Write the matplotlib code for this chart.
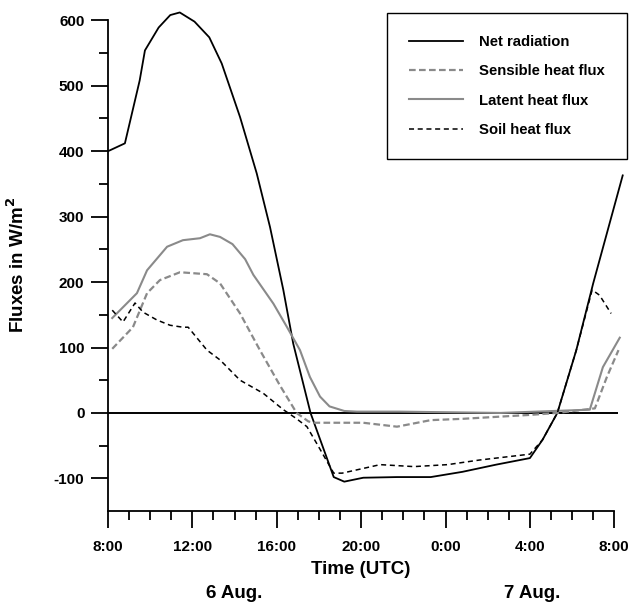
"""
Diurnal course of the surface energy balance components, 6-7 Aug.
"""
import matplotlib
matplotlib.use('Agg')
import matplotlib.pyplot as plt
from matplotlib.ticker import MultipleLocator, FixedLocator

plt.rcParams['font.family'] = ['Liberation Sans', 'DejaVu Sans']
plt.rcParams['font.weight'] = 'bold'
plt.rcParams['axes.unicode_minus'] = False

# hours after 08:00 UTC on 6 Aug.
t_rn = [0, 0.8, 1.5, 1.75, 2.4, 2.95, 3.4, 4.1, 4.8, 5.39, 5.9, 6.26, 7.05,
        7.68, 8.31, 8.78, 9.6, 10.7, 11.2, 12.1, 13.7, 15.3, 16.8, 18.4, 20.0,
        20.6, 21.3, 22.2, 23.0, 24.4]
net_rad = [400, 412, 508, 554, 589, 608, 612, 598, 574, 534, 486, 452, 366,
           284, 188, 106, 0, -98, -105, -99, -98, -98, -90, -79, -69,
           -41, 0, 96, 198, 363]

t_h = [0.2, 1.18, 1.85, 2.46, 3.41, 4.69, 5.31, 6.26, 7.2, 8.15, 8.94, 9.5,
       9.8, 10.5, 12.1, 13.7, 15.3, 16.8, 18.4, 20.0, 21.3, 23.08, 23.65, 24.2]
sensible = [98, 131, 183, 203, 215, 212, 198, 152, 96, 42, 0, -13,
            -15, -15, -15, -21, -11, -9, -6, -3, 0, 7, 55, 96]

t_le = [0.2, 1.37, 1.85, 2.8, 3.55, 4.36, 4.83, 5.31, 5.9, 6.5, 6.89, 7.84,
        8.47, 9.1, 9.57, 10.05, 10.5, 11.2, 11.8, 13.8, 18.6, 22.84, 23.46,
        24.26]
latent = [145, 183, 218, 254, 264, 267, 273, 269, 258, 235, 211, 167,
          132, 96, 55, 25, 10, 3, 2, 2, 0, 5, 70, 115]

t_g = [0.2, 0.71, 1.28, 1.66, 2.32, 2.94, 3.55, 3.8, 4.69, 5.31, 6.26, 7.36,
       8.31, 8.9, 9.43, 9.9, 10.7, 11.1, 12.9, 14.5, 16.1, 17.6, 19.2, 20.0,
       20.6, 21.3, 22.2, 22.95, 23.3, 23.85]
soil = [157, 139, 168, 154, 142, 134, 131, 131, 96, 81, 50, 30,
        5, -8, -21, -47, -92, -92, -79, -82, -79, -72, -66, -63,
        -41, 0, 96, 188, 180, 152]

xticks = [0, 4, 8, 12, 16, 20, 24]
xticklabels = ['8:00', '12:00', '16:00', '20:00', '0:00', '4:00', '8:00']
days = [(6.0, '6 Aug.'), (20.1, '7 Aug.')]

fig = plt.figure(figsize=(6.31, 6.02), dpi=100)
ax = fig.add_axes([0.1712, 0.151, 0.8257, 0.837])

gray = '#8a8a8a'
ax.hlines(0, 0, 24.2, color='k', lw=1.4)
ax.plot(t_rn, net_rad, color='k', lw=1.3, label='Net radiation')
ax.plot(t_h, sensible, color=gray, lw=1.6, dashes=(3, 1.5),
        label='Sensible heat flux')
ax.plot(t_le, latent, color=gray, lw=1.5, label='Latent heat flux')
ax.plot(t_g, soil, color='k', lw=1.1, dashes=(3.3, 2.4),
        label='Soil heat flux')

ax.set_xlim(0, 24.7)
ax.set_ylim(-150, 620)
for s in ['top', 'right']:
    ax.spines[s].set_visible(False)
ax.spines['bottom'].set_bounds(0, 24)
ax.spines['left'].set_bounds(-150, 600)
for s in ['bottom', 'left']:
    ax.spines[s].set_linewidth(1.3)

ax.xaxis.set_major_locator(FixedLocator(xticks))
ax.set_xticklabels(xticklabels)
ax.xaxis.set_minor_locator(MultipleLocator(1))
ax.yaxis.set_major_locator(FixedLocator(range(-100, 601, 100)))
ax.yaxis.set_minor_locator(FixedLocator(range(-50, 551, 100)))
ax.tick_params(which='major', length=12, width=1.3, labelsize=11)
ax.tick_params(which='minor', length=6.3, width=1.3)
ax.tick_params(axis='x', which='major', pad=9)
ax.tick_params(axis='y', which='major', pad=5)

ax.set_xlabel('Time (UTC)', fontsize=13.5, fontweight='bold')
ax.xaxis.set_label_coords(12 / 24.7, -0.099)
ax.set_ylabel('Fluxes in W/m$^\\mathbf{2}$', fontsize=13.5, fontweight='bold')
ax.yaxis.set_label_coords(-0.154, 0.488)

for x, d in days:
    ax.text(x, -0.147, d, transform=ax.get_xaxis_transform(), ha='center',
            va='top', fontsize=13.5, fontweight='bold')

leg = ax.legend(loc='upper right', bbox_to_anchor=(627 / 631, 589 / 602),
                bbox_transform=fig.transFigure, borderaxespad=0,
                fontsize=10.7, fancybox=False, edgecolor='k',
                framealpha=1, handlelength=3.6, handletextpad=1.1,
                borderpad=1.5, labelspacing=1.02)
leg.get_frame().set_linewidth(1.0)

fig.savefig('out.png', dpi=100)
